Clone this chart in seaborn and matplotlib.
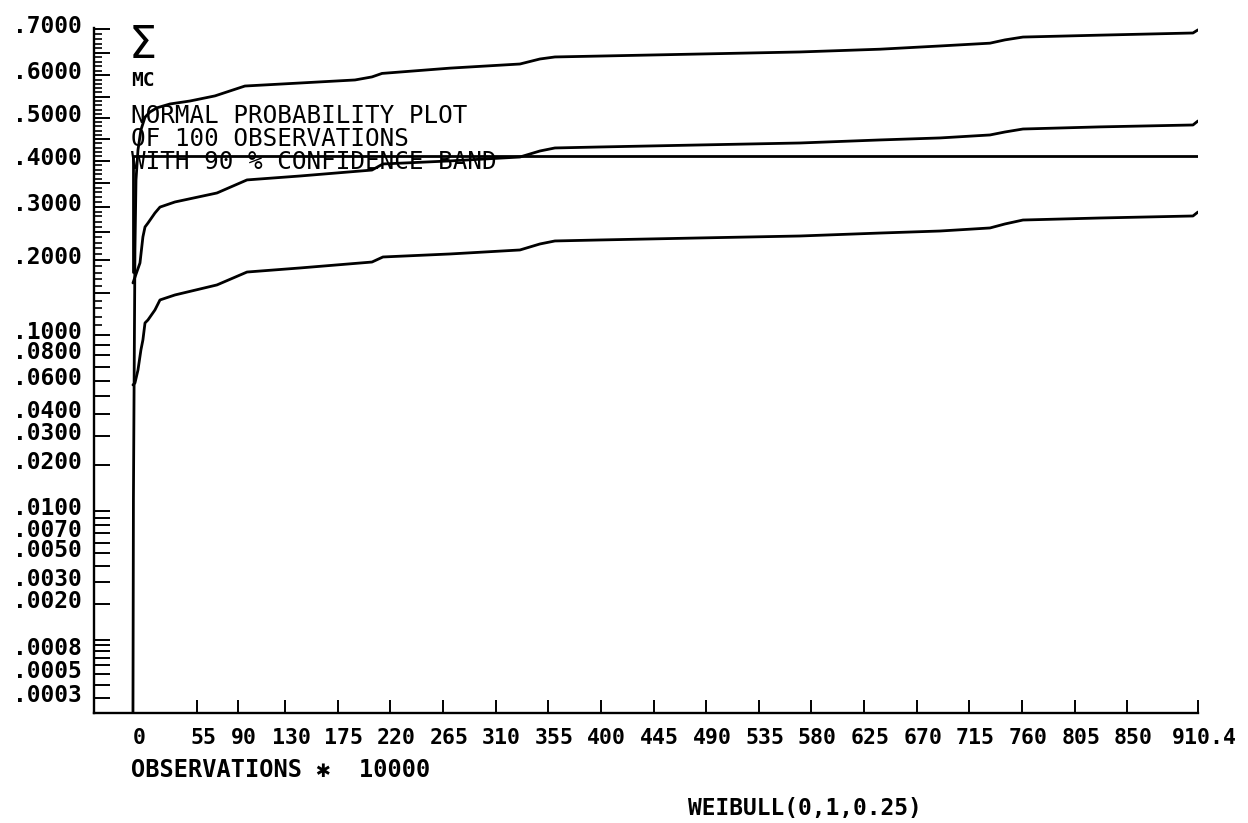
import numpy as np
import matplotlib
matplotlib.use("Agg")
import matplotlib.pyplot as plt
import seaborn as sns
from statistics import NormalDist
from matplotlib.ticker import FixedLocator, FixedFormatter, NullFormatter
from matplotlib.transforms import ScaledTranslation

# ---------------- data ----------------
upper_x = [0, 0.4, 0.9, 1.7, 2.6, 4.3, 6.8, 10.3, 14.5, 20.5, 31.6, 48.7, 70.1, 95.7,
           142.8, 189.8, 204.3, 212.9, 271.0, 330.8, 347.9, 360.7, 399.2, 484.7, 570.2,
           638.6, 689.9, 732.6, 745.4, 760.8, 826.6, 906.1, 910.4]
upper_p = [0.0002, 0.0119, 0.0476, 0.2174, 0.357, 0.425, 0.4717, 0.502, 0.514, 0.524,
           0.533, 0.540, 0.552, 0.575, 0.582, 0.589, 0.596, 0.604, 0.616, 0.6253, 0.6365,
           0.641, 0.643, 0.6475, 0.652, 0.658, 0.665, 0.671, 0.678, 0.684, 0.688, 0.6925,
           0.699]

mid_x = [0, 1.7, 6.0, 8.5, 10.3, 12.8, 18.8, 23.1, 35.9, 71.8, 97.5, 142.8, 204.3, 213.7,
         271.0, 330.8, 347.9, 360.7, 399.2, 484.7, 570.2, 638.6, 689.9, 732.6, 745.4,
         760.8, 826.6, 906.1, 910.4]
mid_p = [0.1645, 0.173, 0.1955, 0.2407, 0.2595, 0.267, 0.287, 0.299, 0.3096, 0.3286,
         0.357, 0.3657, 0.379, 0.3928, 0.3997, 0.4087, 0.4226, 0.4296, 0.4319, 0.4366,
         0.4412, 0.4483, 0.453, 0.460, 0.467, 0.474, 0.479, 0.4835, 0.493]

low_x = [0, 1.7, 4.3, 6.8, 8.5, 10.3, 12.8, 18.8, 23.1, 35.9, 71.8, 97.5, 142.8, 204.3,
         213.7, 271.0, 330.8, 347.9, 360.7, 399.2, 484.7, 570.2, 638.6, 689.9, 732.6,
         745.4, 760.8, 826.6, 906.1, 910.4]
low_p = [0.0571, 0.0584, 0.068, 0.0849, 0.0945, 0.1126, 0.116, 0.128, 0.1408, 0.1475,
         0.1616, 0.181, 0.1874, 0.197, 0.2054, 0.2105, 0.2174, 0.228, 0.2334, 0.2352,
         0.2389, 0.2425, 0.248, 0.2518, 0.2576, 0.2653, 0.273, 0.277, 0.281, 0.289]

fit_x = [0, 0, 910.4]
fit_p = [0.181, 0.411, 0.411]

xtick_values = [0, 55, 90, 130, 175, 220, 265, 310, 355, 400, 445, 490, 535, 580, 625,
                670, 715, 760, 805, 850, 910.4]
xtick_labels = ["0", "55", "90", "130", "175", "220", "265", "310", "355", "400", "445",
                "490", "535", "580", "625", "670", "715", "760", "805", "850", "910.4"]

ytick_values = [0.7, 0.6, 0.5, 0.4, 0.3, 0.2, 0.1, 0.08, 0.06, 0.04, 0.03, 0.02, 0.01,
                0.007, 0.005, 0.003, 0.002, 0.0008, 0.0005, 0.0003]
ytick_labels = [".7000", ".6000", ".5000", ".4000", ".3000", ".2000", ".1000", ".0800",
                ".0600", ".0400", ".0300", ".0200", ".0100", ".0070", ".0050", ".0030",
                ".0020", ".0008", ".0005", ".0003"]
ytick_long_unlabeled = [0.65, 0.55, 0.45, 0.35, 0.25, 0.15, 0.09, 0.07, 0.05, 0.009,
                        0.008, 0.006, 0.004, 0.001, 0.0009, 0.0007, 0.0006, 0.0004]
ytick_short = [0.11, 0.12, 0.13, 0.14, 0.16, 0.17, 0.18, 0.19, 0.21, 0.22, 0.23, 0.24,
               0.26, 0.27, 0.28, 0.29, 0.31, 0.32, 0.33, 0.34, 0.36, 0.37, 0.38, 0.39,
               0.41, 0.42, 0.43, 0.44, 0.46, 0.47, 0.48, 0.49, 0.51, 0.52, 0.53, 0.54,
               0.56, 0.57, 0.58, 0.59, 0.61, 0.62, 0.63, 0.64, 0.66, 0.67, 0.68, 0.69]

title_lines = ["NORMAL PROBABILITY PLOT", "OF 100 OBSERVATIONS",
               "WITH 90 % CONFIDENCE BAND"]

# ---------------- styling ----------------
sns.set_style("white")
plt.rcParams["font.family"] = ["DejaVu Sans Mono", "DejaVu Sans"]
plt.rcParams["font.weight"] = "bold"
plt.rcParams["text.color"] = "black"
plt.rcParams["xtick.color"] = "black"
plt.rcParams["ytick.color"] = "black"

W, H = 1248, 823
fig = plt.figure(figsize=(W / 100, H / 100), dpi=100)
fig.patch.set_facecolor("white")
ax = fig.add_axes([94 / W, 1 - 713 / H, (1198 - 94) / W, (713 - 28) / H])
ax.set_facecolor("white")

lw = 2.0
for xs, ps in [(upper_x, upper_p), (mid_x, mid_p), (low_x, low_p), (fit_x, fit_p)]:
    sns.lineplot(x=xs, y=ps, ax=ax, color="black", linewidth=lw, sort=False,
                 estimator=None, legend=False)

# normal probability scale
_nd = NormalDist()
_ppf = np.vectorize(_nd.inv_cdf, otypes=[float])
_cdf = np.vectorize(_nd.cdf, otypes=[float])


def fwd(p):
    p = np.clip(np.asarray(p, dtype=float), 1e-9, 1 - 1e-9)
    return _ppf(p)


def inv(z):
    return _cdf(np.asarray(z, dtype=float))


ax.set_yscale("function", functions=(fwd, inv))
ax.set_ylim(0.000215, 0.7028)
ax.set_xlim(-33.3, 910.4)

# y ticks
major_vals = ytick_values + ytick_long_unlabeled
major_labs = ytick_labels + [""] * len(ytick_long_unlabeled)
ax.yaxis.set_major_locator(FixedLocator(major_vals))
ax.yaxis.set_major_formatter(FixedFormatter(major_labs))
ax.yaxis.set_minor_locator(FixedLocator(ytick_short))
ax.yaxis.set_minor_formatter(NullFormatter())

# x ticks
ax.xaxis.set_major_locator(FixedLocator(xtick_values))
ax.xaxis.set_major_formatter(FixedFormatter(xtick_labels))
ax.xaxis.set_minor_locator(FixedLocator([]))

ax.tick_params(axis="y", which="major", direction="in", length=11.5, width=1.4,
               pad=8.6, labelsize=16.5, colors="black", left=True)
ax.tick_params(axis="y", which="minor", direction="in", length=5.8, width=1.2,
               left=True, colors="black")
ax.tick_params(axis="x", which="major", direction="in", length=9.4, width=1.4,
               pad=10.8, labelsize=15.5, colors="black", bottom=True)

for side in ["top", "right"]:
    ax.spines[side].set_visible(False)
for side in ["left", "bottom"]:
    ax.spines[side].set_linewidth(1.7)
    ax.spines[side].set_color("black")

ax.set_xlabel("")
ax.set_ylabel("")

# label offsets like the plotter output
yoff = ScaledTranslation(0, 0.05, fig.dpi_scale_trans)
for t in ax.yaxis.get_major_ticks():
    t.label1.set_transform(t.label1.get_transform() + yoff)
xoff = ScaledTranslation(0.06, 0, fig.dpi_scale_trans)
for t in ax.xaxis.get_major_ticks():
    t.label1.set_transform(t.label1.get_transform() + xoff)


def ftext(px, py, s, **kw):
    fig.text(px / W, 1 - py / H, s, color="black", **kw)


ftext(143, 45, "\u03A3", fontsize=32, ha="center", va="center",
      family=["DejaVu Sans"], weight="normal")
ftext(131, 80, "MC", fontsize=14, ha="left", va="center")
ftext(131, 104, "\n".join(title_lines), fontsize=17.5, ha="left", va="top",
      weight="normal", linespacing=0.95)
ftext(131, 770, "OBSERVATIONS \u2731  10000", fontsize=17, ha="left", va="center",
      family=["DejaVu Sans Mono", "DejaVu Sans"])
ftext(805, 808, "WEIBULL(0,1,0.25)", fontsize=16.5, ha="center", va="center")

fig.savefig("out.png", dpi=100, facecolor="white")
